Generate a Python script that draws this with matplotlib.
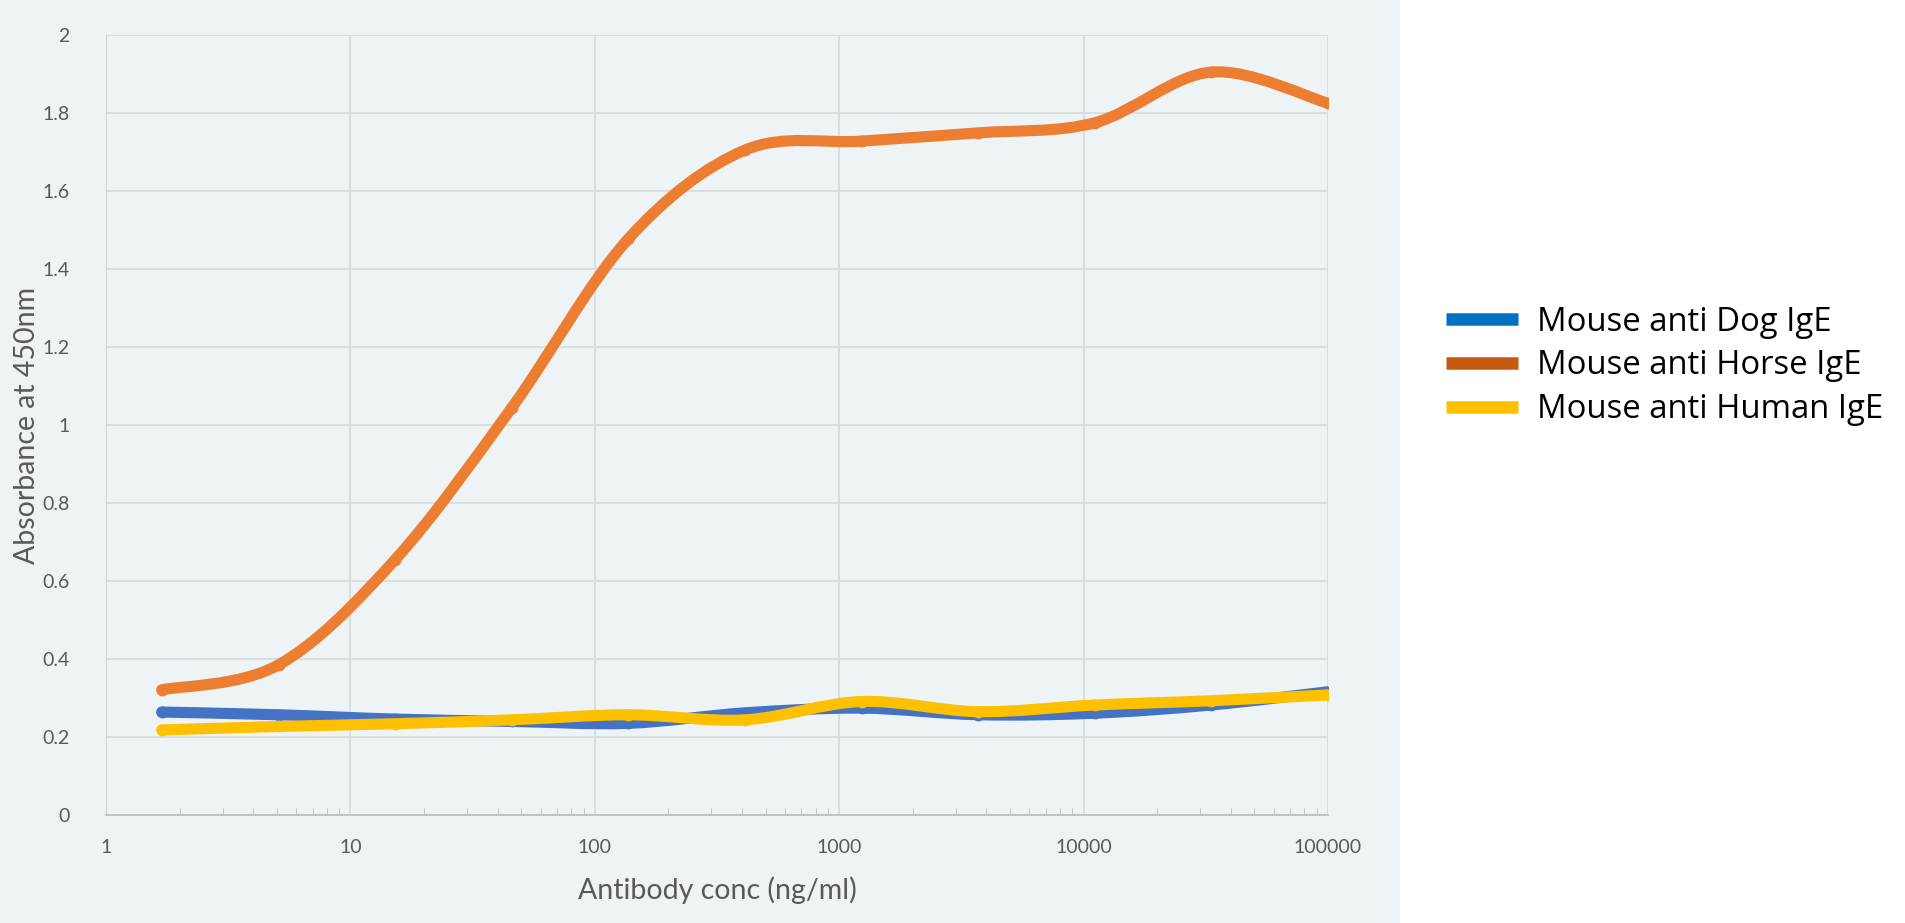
import numpy as np
import matplotlib.pyplot as plt
from matplotlib.path import Path
from matplotlib.patches import PathPatch, Rectangle
from matplotlib.lines import Line2D

plt.rcParams['font.family'] = ['Lato', 'DejaVu Sans']

# antibody concentration (ng/ml), 3-fold dilution series
conc = [1.69, 5.08, 15.2, 45.7, 137, 412, 1235, 3704, 11111, 33333, 100000]
dog = [0.264, 0.257, 0.246, 0.240, 0.235, 0.262, 0.274, 0.257, 0.261, 0.282, 0.316]
horse = [0.321, 0.385, 0.654, 1.044, 1.477, 1.705, 1.728, 1.749, 1.775, 1.905, 1.825]
human = [0.218, 0.227, 0.234, 0.244, 0.257, 0.244, 0.291, 0.265, 0.282, 0.293, 0.308]

labels = ["Mouse anti Dog IgE", "Mouse anti Horse IgE", "Mouse anti Human IgE"]
line_colors = ["#4472C4", "#ED7D31", "#FFC000"]
legend_colors = ["#0070C0", "#C55A11", "#FFC000"]

BG = "#EEF3F6"
GRID = "#D9DCDF"
TXT = "#595959"


def smooth_path(xs, ys):
    # Excel-style smoothed line: cubic Bezier segments built in log-x space
    lx = np.log10(xs)
    ys = np.asarray(ys, dtype=float)
    n = len(lx)
    verts = [(xs[0], ys[0])]
    codes = [Path.MOVETO]
    for i in range(n - 1):
        p0 = max(i - 1, 0)
        p3 = min(i + 2, n - 1)
        c1x = lx[i] + (lx[i + 1] - lx[p0]) / 6
        c1y = ys[i] + (ys[i + 1] - ys[p0]) / 6
        c2x = lx[i + 1] - (lx[p3] - lx[i]) / 6
        c2y = ys[i + 1] - (ys[p3] - ys[i]) / 6
        verts += [(10 ** c1x, c1y), (10 ** c2x, c2y), (xs[i + 1], ys[i + 1])]
        codes += [Path.CURVE4] * 3
    return Path(verts, codes)


fig = plt.figure(figsize=(19.05, 9.23), dpi=100)
fig.patch.set_facecolor("white")
fig.patches.append(Rectangle((0, 0), 1400 / 1905, 1, transform=fig.transFigure,
                             facecolor=BG, edgecolor="none", zorder=-10))

ax = fig.add_axes([106 / 1905, 108 / 923, (1328 - 106) / 1905, (815 - 35) / 923])
ax.set_facecolor(BG)
ax.set_xscale("log")
ax.set_xlim(1, 100000)
ax.set_ylim(0, 2)

for ys, c in zip([dog, horse, human], line_colors):
    ax.add_patch(PathPatch(smooth_path(conc, ys), facecolor="none", edgecolor=c,
                           lw=8, capstyle="round", joinstyle="round", zorder=3))
    ax.plot(conc, ys, "o", color=c, ms=7.5, zorder=3)

ax.set_yticks(np.arange(0, 2.01, 0.2))
ax.set_yticklabels(["0", "0.2", "0.4", "0.6", "0.8", "1", "1.2", "1.4", "1.6", "1.8", "2"])
ax.set_xticks([1, 10, 100, 1000, 10000, 100000])
ax.set_xticklabels(["1", "10", "100", "1000", "10000", "100000"])
ax.grid(True, which="major", color=GRID, lw=1.3)
ax.set_axisbelow(True)
ax.tick_params(axis="both", which="major", length=0, labelsize=14, labelcolor=TXT)
ax.tick_params(axis="y", pad=26)
ax.tick_params(axis="x", pad=17)
ax.tick_params(axis="x", which="minor", direction="in", length=5, color="#BFBFBF")
ax.tick_params(axis="y", which="minor", length=0)
for s in ["top", "right"]:
    ax.spines[s].set_visible(False)
ax.spines["left"].set_color("#D0D3D6")
ax.spines["bottom"].set_color("#BFBFBF")
ax.spines["bottom"].set_linewidth(1.3)

fig.text(717 / 1905, 1 - 890 / 923, "Antibody conc (ng/ml)", ha="center", va="center",
         fontsize=20.5, color=TXT)
fig.text(27 / 1905, 1 - 425 / 923, "Absorbance at 450nm", ha="center", va="center",
         rotation=90, fontsize=20.5, color=TXT)

handles = [Line2D([], [], color=c, lw=9, solid_capstyle="butt") for c in legend_colors]
fig.legend(handles, labels, loc="center left", bbox_to_anchor=(1446 / 1905, 1 - 366 / 923),
           frameon=False, handlelength=2.2, handletextpad=0.55,
           labelspacing=0.33, borderaxespad=0, borderpad=0,
           prop={"family": ["Open Sans", "DejaVu Sans"], "size": 23.7})

fig.savefig("out.png", dpi=100, facecolor="white")
